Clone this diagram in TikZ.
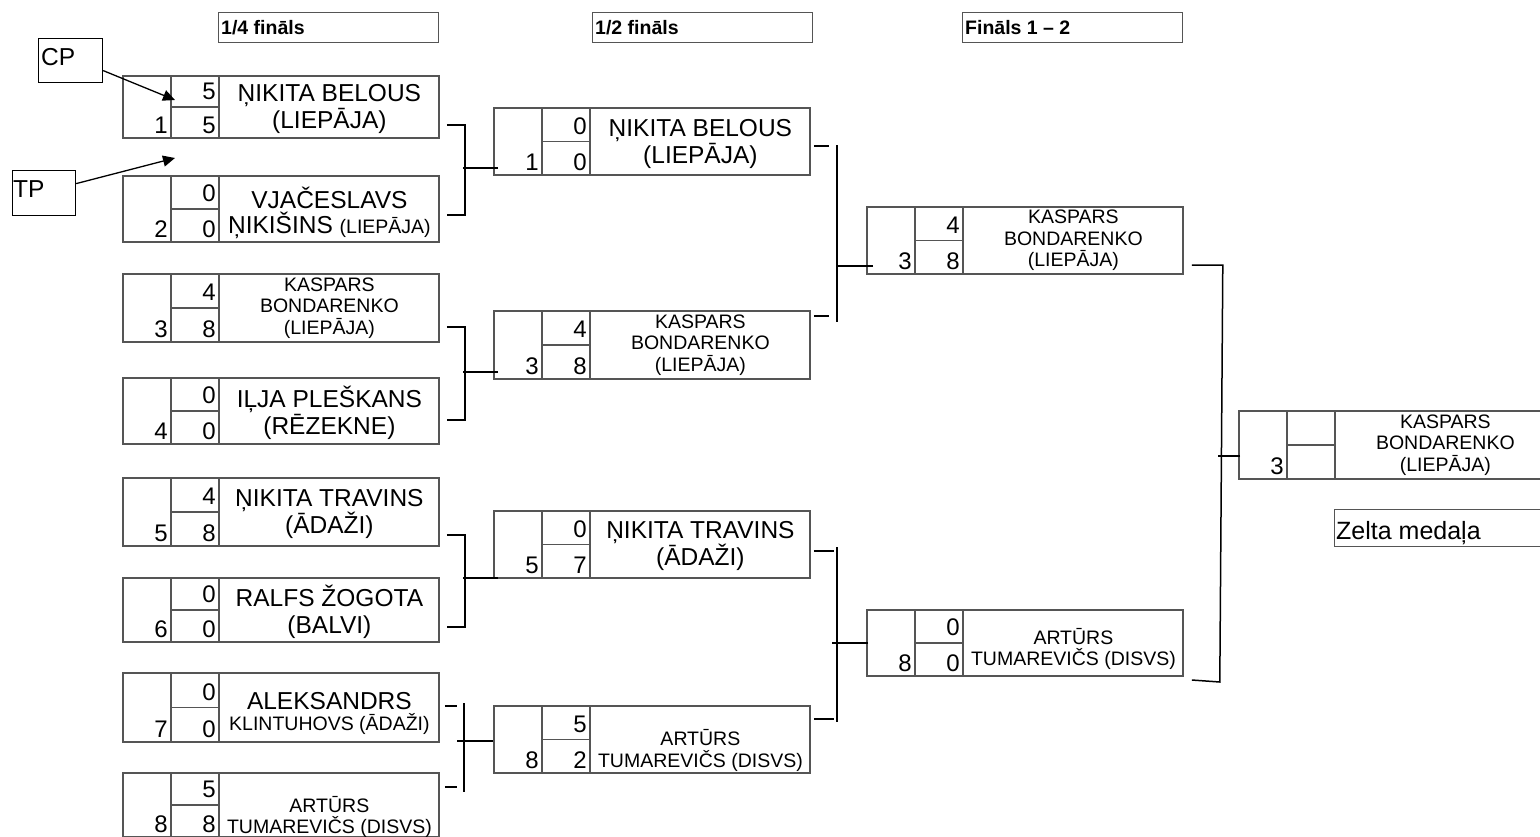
\documentclass[tikz,border=0pt]{standalone}
\usepackage{fontspec}
\setmainfont{Liberation Sans}
\usetikzlibrary{arrows.meta, positioning, calc}
\definecolor{cellgray}{RGB}{85, 85, 85}
\newcommand{\bignamefont}{\fontsize{24.5}{27}\selectfont}
\newcommand{\smallnamefont}{\fontsize{19.5}{21.5}\selectfont}
\tikzset{
  entrybox/.style={draw=cellgray, line width=1.8pt, minimum width=316, inner sep=0pt},
  cellline/.style={draw=cellgray, line width=1.8pt},
  digit/.style={anchor=base east, inner sep=0pt, font=\fontsize{24}{26}\selectfont},
  bigname/.style={align=center, inner sep=0pt, font=\bignamefont},
  smallname/.style={align=center, inner sep=0pt, font=\smallnamefont},
  headbox/.style={draw=cellgray, line width=1.3pt, minimum width=220, minimum height=30, inner sep=0pt, anchor=north west},
  headtext/.style={anchor=west, inner sep=0pt, font=\fontsize{19.5}{21}\selectfont\bfseries},
  joinline/.style={black, line width=1.5pt},
  pointer/.style={-{Triangle[length=12pt, width=11pt]}, black, line width=1.3pt},
  notebox/.style={draw=black, line width=1.2pt, inner sep=0pt, anchor=north west},
  notetext/.style={anchor=base west, inner sep=0pt, font=\fontsize{24.5}{27}\selectfont}
}
% one bracket entry: id, x, y, height, seed, score 1, score 2, name style, name
\newcommand{\playerbox}[9]{%
  \node[entrybox, minimum height=#4, anchor=north west] (#1) at (#2,#3) {};
  \draw[cellline] ([xshift=49]#1.north west) -- ([xshift=49]#1.south west);
  \draw[cellline] ([xshift=97]#1.north west) -- ([xshift=97]#1.south west);
  \draw[cellline] ([xshift=49]#1.west) -- ([xshift=97]#1.west);
  \node[digit] (#1-seed) at ([shift={(46,-5)}]#1.south west) {#5};
  \node[digit] (#1-a) at ([shift={(94,-7)}]#1.west) {#6};
  \node[digit] (#1-b) at ([shift={(94,-5)}]#1.south west) {#7};
  \node[#8] (#1-name) at ([xshift=48.5]#1.center) {#9};
}

\begin{document}
\begin{tikzpicture}[x=1pt, y=-1pt]
    \useasboundingbox (0,0) rectangle (1540,836);

    % --- ROUND HEADERS ---
    \node[headbox] (hdq) at (218,12) {};
    \node[headtext] (hdq-t) at ([xshift=3]hdq.west) {1/4 fināls};
    \node[headbox] (hds) at (592,12) {};
    \node[headtext] (hds-t) at ([xshift=3]hds.west) {1/2 fināls};
    \node[headbox] (hdf) at (962,12) {};
    \node[headtext] (hdf-t) at ([xshift=3]hdf.west) {Fināls 1 – 2};

    % --- QUARTER FINALS ---
    \playerbox{qf1}{122}{75}{62}{1}{5}{5}{bigname, yshift=-2}{ŅIKITA BELOUS\\(LIEPĀJA)}
    \playerbox{qf2}{122}{175}{66}{2}{0}{0}{bigname, yshift=-4}{VJAČESLAVS\\[-2pt]ŅIKIŠINS {\smallnamefont(LIEPĀJA)}}
    \playerbox{qf3}{122}{273}{68}{3}{4}{8}{smallname}{KASPARS\\BONDARENKO\\(LIEPĀJA)}
    \playerbox{qf4}{122}{377}{66}{4}{0}{0}{bigname, yshift=-2}{IĻJA PLEŠKANS\\(RĒZEKNE)}
    \playerbox{qf5}{122}{477}{68}{5}{4}{8}{bigname, yshift=-2}{ŅIKITA TRAVINS\\(ĀDAŽI)}
    \playerbox{qf6}{122}{577}{64}{6}{0}{0}{bigname, yshift=-2}{RALFS ŽOGOTA\\(BALVI)}
    \playerbox{qf7}{122}{672}{69}{7}{0}{0}{bigname, yshift=-6}{ALEKSANDRS\\[-6pt]{\smallnamefont KLINTUHOVS (ĀDAŽI)}}
    \playerbox{qf8}{122}{772}{64}{8}{5}{8}{smallname, yshift=-12}{ARTŪRS\\TUMAREVIČS (DISVS)}

    % --- SEMI FINALS ---
    \playerbox{sf1}{493}{107}{67}{1}{0}{0}{bigname, yshift=-3}{ŅIKITA BELOUS\\(LIEPĀJA)}
    \playerbox{sf2}{493}{310}{68}{3}{4}{8}{smallname}{KASPARS\\BONDARENKO\\(LIEPĀJA)}
    \playerbox{sf3}{493}{510}{67}{5}{0}{7}{bigname, yshift=-2}{ŅIKITA TRAVINS\\(ĀDAŽI)}
    \playerbox{sf4}{493}{705}{67}{8}{5}{2}{smallname, yshift=-11}{ARTŪRS\\TUMAREVIČS (DISVS)}

    % --- FINALS ---
    \playerbox{f1}{866}{206}{67}{3}{4}{8}{smallname}{KASPARS\\BONDARENKO\\(LIEPĀJA)}
    \playerbox{f2}{866}{609}{66}{8}{0}{0}{smallname, yshift=-6}{ARTŪRS\\TUMAREVIČS (DISVS)}

    % --- WINNER ---
    \playerbox{win}{1238}{410}{68}{3}{}{}{smallname}{KASPARS\\BONDARENKO\\(LIEPĀJA)}
    \node[draw=cellgray, line width=1.2pt, inner sep=0pt, minimum width=220, minimum height=37, anchor=north west] (medal) at (1334,509) {};
    \node[anchor=base west, inner sep=0pt, font=\fontsize{25}{27}\selectfont] (medal-t) at ([shift={(2,-8)}]medal.south west) {Zelta medaļa};

    % --- BRACKET LINES ---
    \draw[joinline] ([shift={(7,50)}]qf1.north east) -- ++(18,0) |- ([shift={(7,40)}]qf2.north east);
    \draw[joinline] ([shift={(5,61)}]sf1.north west) -- ++(-35,0);
    \draw[joinline] ([shift={(7,54)}]qf3.north east) -- ++(18,0) |- ([shift={(7,43)}]qf4.north east);
    \draw[joinline] ([shift={(5,62)}]sf2.north west) -- ++(-35,0);
    \draw[joinline] ([shift={(7,58)}]qf5.north east) -- ++(18,0) |- ([shift={(7,50)}]qf6.north east);
    \draw[joinline] ([shift={(5,68)}]sf3.north west) -- ++(-35,0);
    \draw[joinline] ([shift={(5,34)}]qf7.north east) -- ++(12,0);
    \draw[joinline] ([shift={(5,15)}]qf8.north east) -- ++(12,0);
    \draw[joinline] ([shift={(24,31)}]qf7.north east) -- ([shift={(24,20)}]qf8.north east);
    \draw[joinline] ([shift={(0,36)}]sf4.north west) -- ++(-36,0);

    \draw[joinline] ([shift={(3,39)}]sf1.north east) -- ++(15,0);
    \draw[joinline] ([shift={(3,6)}]sf2.north east) -- ++(15,0);
    \draw[joinline] ([shift={(26,38)}]sf1.north east) -- ([shift={(26,12)}]sf2.north east);
    \draw[joinline] ([shift={(7,60)}]f1.north west) -- ++(-35,0);
    \draw[joinline] ([shift={(3,41)}]sf3.north east) -- ++(20,0);
    \draw[joinline] ([shift={(3,14)}]sf4.north east) -- ++(20,0);
    \draw[joinline] ([shift={(26,37)}]sf3.north east) -- ([shift={(26,17)}]sf4.north east);
    \draw[joinline] ([shift={(2,34)}]f2.north west) -- ++(-36,0);

    \draw[joinline] ([shift={(8,59)}]f1.north east) -- ([shift={(39,59)}]f1.north east) -- ([shift={(36,73)}]f2.north east) -- ([shift={(8,71)}]f2.north east);
    \draw[joinline] ([shift={(2,46)}]win.north west) -- ++(-22,0);

    % --- CP / TP NOTES ---
    \node[notebox, minimum width=64, minimum height=44] (cp) at (38,38) {};
    \node[notetext] (cp-t) at ([shift={(3,27)}]cp.north west) {CP};
    \node[notebox, minimum width=63, minimum height=45] (tp) at (12,170) {};
    \node[notetext] (tp-t) at ([shift={(1,27)}]tp.north west) {TP};
    \coordinate (cptip) at ([shift={(53,25)}]qf1.north west);
    \coordinate (tptip) at ([shift={(53,-17)}]qf2.north west);
    \draw[pointer] ([yshift=-10]cp.east) -- (cptip);
    \draw[pointer] ([yshift=9.5]tp.east) -- (tptip);
\end{tikzpicture}
\end{document}
